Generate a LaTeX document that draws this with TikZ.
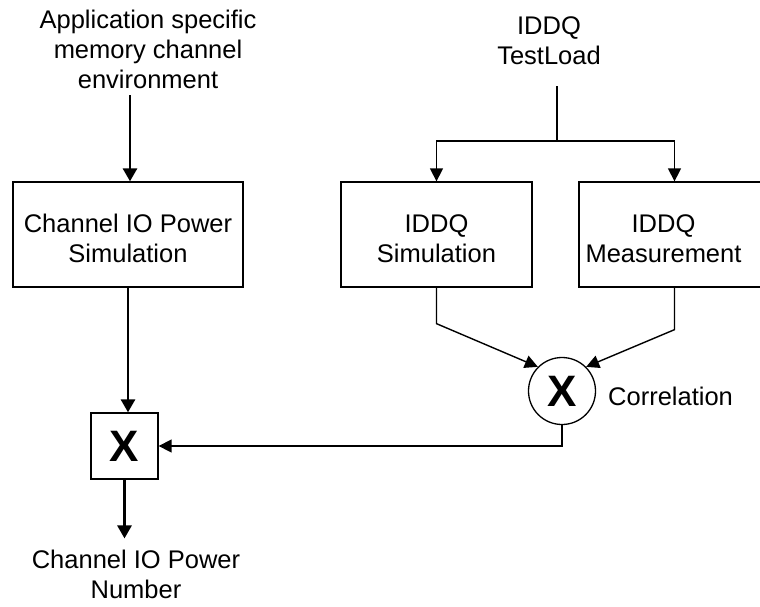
\documentclass[tikz,border=0pt]{standalone}
\usepackage{fontspec}
\setmainfont{Liberation Sans}
\usetikzlibrary{arrows.meta}
\begin{document}
\begin{tikzpicture}[x=1pt,y=-1pt,
  every node/.style={font=\fontsize{25.5}{30}\selectfont, inner sep=0pt, align=center},
  blockbox/.style={draw, line width=1.3pt, minimum width=#1, minimum height=105pt},
  mulsign/.style={font=\fontsize{44}{44}\selectfont\bfseries},
  thickflow/.style={line width=2.8pt, -{Triangle[length=13pt,width=14pt]}},
  thinflow/.style={line width=1.4pt, -{Triangle[length=13pt,width=13pt]}},
  stem/.style={line width=2.8pt}]
\useasboundingbox (0,0) rectangle (760,606);

% left branch: channel IO power
\node (apptext) at (148,49) {Application specific\\memory channel\\environment};
\node[blockbox=230pt] (simbox) at (128,234.5) {};
\node (simtext) at (128,238.5) {Channel IO Power\\Simulation};
\node[draw, line width=1.3pt, minimum width=67pt, minimum height=66pt, mulsign] (mulbox) at (124.5,446) {X};
\node (outtext) at (136,574) {Channel IO Power\\Number};
\coordinate (appout) at (130,95);

\draw[thickflow] (appout) -- (appout |- simbox.north);
\draw[thickflow] (simbox.south) -- (simbox.south |- mulbox.north);
\draw[thickflow, shorten >=11pt] (mulbox.south) -- (mulbox.south |- outtext.north);

% right branch: IDDQ simulation vs. measurement
\node (testload) at (549,41) {IDDQ\\TestLoad};
\node[blockbox=191pt] (iddqsim) at (436.5,234.5) {};
\node (iddqsimtext) at (436.5,238.5) {IDDQ\\Simulation};
\node[blockbox=191pt] (measbox) at (674.5,234.5) {};
\node (meastext) at (663.5,239) {IDDQ\\Measurement};
\node[draw, circle, line width=1.3pt, minimum size=67pt, mulsign] (corr) at (562,391) {X};
\node[anchor=west] (corrtext) at (608,396) {Correlation};
\coordinate (tlout) at (557,86);
\coordinate (split) at (557,141);

\draw[stem] (tlout) -- (split);
\draw[thinflow] (split) -| (iddqsim.north);
\draw[thinflow] (split) -| (measbox.north);
\draw[thinflow] (iddqsim.south) -- ++(0,36) -- (corr.135);
\draw[thinflow] (measbox.south) -- ++(0,42) -- (corr.45);
\draw[thinflow] (corr.south) |- (mulbox.east);
\end{tikzpicture}
\end{document}
